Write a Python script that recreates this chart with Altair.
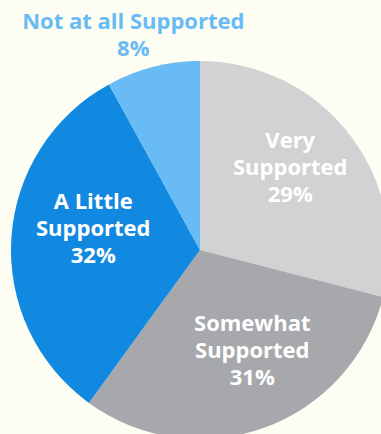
import altair as alt
import pandas as pd

categories = ["Very Supported", "Somewhat Supported", "A Little Supported", "Not at all Supported"]
labels = ["Very\nSupported\n29%", "Somewhat\nSupported\n31%", "A Little\nSupported\n32%", "Not at all Supported\n8%"]
values = [29, 31, 32, 8]
colors = ["#D1D2D4", "#A7A8AB", "#1289E0", "#68BBF4"]

df = pd.DataFrame({"cat": categories, "label": labels, "value": values, "order": list(range(4))})

pie = alt.Chart(df).mark_arc(outerRadius=189, stroke=None).encode(
    theta=alt.Theta("value:Q", stack=True),
    order=alt.Order("order:Q"),
    x=alt.value(200), y=alt.value(250),
    color=alt.Color("cat:N", scale=alt.Scale(domain=categories, range=colors), legend=None),
)

text_base = alt.Chart(df).transform_window(
    cum="sum(value)", sort=[alt.SortField("order")]
).transform_joinaggregate(
    total="sum(value)"
).transform_calculate(
    mid="(datum.cum - datum.value / 2) / datum.total"
)

FONT = "Open Sans"

def lab(cat, radius, dx, dy, color):
    return text_base.transform_filter(alt.datum.cat == cat).mark_text(
        radius=radius, font=FONT, fontSize=22, fontWeight="bold", align="center",
        baseline="middle", lineBreak="\n", lineHeight=27, color=color, dx=dx, dy=dy,
    ).encode(
        theta=alt.Theta("mid:Q", stack=None, scale=alt.Scale(domain=[0, 1], range=[0, 6.283185307])),
        x=alt.value(200), y=alt.value(250), text="label:N",
    )

labels_layer = alt.layer(
    lab("Very Supported", 118, -3, -37, "white"),
    lab("Somewhat Supported", 110, 15, -29, "white"),
    lab("A Little Supported", 110, 3, -41, "white"),
    lab("Not at all Supported", 220, -12, -15, "#68BBF4"),
)

chart = alt.layer(pie, labels_layer).resolve_scale(theta="independent").properties(
    width=381, height=434, background="#FDFDF3", padding=0,
    autosize=alt.AutoSizeParams(type="none"),
).configure_view(stroke=None)

chart.save("out.html", embed_options={"renderer": "svg", "actions": False})
